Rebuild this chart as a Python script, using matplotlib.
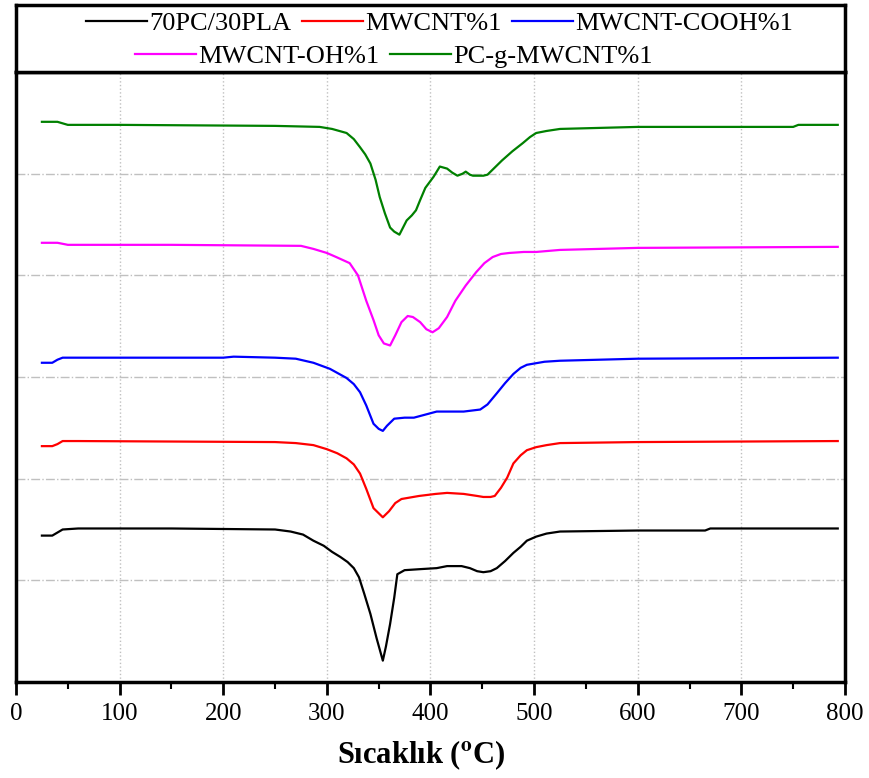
import matplotlib
matplotlib.use("Agg")
import matplotlib.pyplot as plt
from matplotlib.ticker import MultipleLocator

plt.rcParams['font.family'] = ['Liberation Serif', 'DejaVu Serif']
plt.rcParams['mathtext.fontset'] = 'stix'

# DTG curves, stacked with offsets (arbitrary units)
t_pla = [25, 35, 40, 45, 60, 150, 250, 265, 277, 287, 297, 305, 313, 320, 326, 331, 336, 342, 348, 354,
         357, 361, 365, 368, 375, 390, 406, 416, 430, 438, 445, 451, 458, 464, 472, 480, 487, 493, 502, 512,
         525, 600, 665, 670, 793]
y_pla = [1.44, 1.44, 1.47, 1.50, 1.51, 1.51, 1.50, 1.48, 1.45, 1.39, 1.34, 1.28, 1.23, 1.18, 1.12, 1.03,
         0.87, 0.67, 0.43, 0.21, 0.35, 0.57, 0.83, 1.06, 1.10, 1.11, 1.12, 1.14, 1.14, 1.12, 1.09, 1.08,
         1.09, 1.12, 1.19, 1.27, 1.33, 1.39, 1.43, 1.46, 1.48, 1.49, 1.49, 1.51, 1.51]

t_cnt = [25, 35, 40, 45, 60, 250, 270, 287, 300, 310, 319, 326, 332, 338, 345, 350, 354, 360, 366, 372,
         389, 405, 416, 432, 445, 451, 458, 462, 468, 474, 480, 487, 493, 502, 512, 525, 600, 793]
y_cnt = [2.32, 2.32, 2.34, 2.37, 2.37, 2.36, 2.35, 2.33, 2.29, 2.25, 2.20, 2.14, 2.05, 1.90, 1.71, 1.66,
         1.62, 1.68, 1.76, 1.80, 1.83, 1.85, 1.86, 1.85, 1.83, 1.82, 1.82, 1.83, 1.91, 2.01, 2.15, 2.23,
         2.28, 2.31, 2.33, 2.35, 2.36, 2.37]

t_cooh = [25, 35, 40, 45, 60, 200, 210, 250, 270, 287, 303, 319, 326, 332, 338, 345, 350, 354, 358, 365,
          375, 384, 395, 406, 420, 432, 448, 455, 464, 472, 480, 487, 493, 510, 525, 600, 793]
y_cooh = [3.14, 3.14, 3.17, 3.19, 3.19, 3.19, 3.20, 3.19, 3.18, 3.14, 3.08, 2.99, 2.93, 2.85, 2.72, 2.54,
          2.49, 2.47, 2.52, 2.59, 2.60, 2.60, 2.63, 2.66, 2.66, 2.66, 2.68, 2.73, 2.84, 2.94, 3.03, 3.09,
          3.12, 3.15, 3.16, 3.18, 3.19]

t_oh = [25, 40, 50, 150, 275, 287, 300, 309, 322, 330, 338, 345, 350, 355, 361, 366, 372, 378, 383, 390,
        396, 402, 408, 416, 424, 434, 444, 452, 460, 468, 476, 490, 502, 525, 600, 793]
y_oh = [4.32, 4.32, 4.30, 4.30, 4.29, 4.26, 4.22, 4.18, 4.12, 4.00, 3.75, 3.56, 3.41, 3.33, 3.31, 3.41,
        3.54, 3.60, 3.59, 3.54, 3.47, 3.44, 3.48, 3.59, 3.75, 3.90, 4.03, 4.12, 4.18, 4.21, 4.22, 4.23,
        4.23, 4.25, 4.27, 4.28]

t_pcg = [25, 40, 50, 100, 250, 293, 305, 319, 326, 332, 337, 342, 347, 351, 356, 361, 365, 370, 374, 377,
         382, 386, 390, 395, 403, 409, 416, 421, 426, 431, 434, 438, 441, 451, 455, 459, 464, 469, 479, 489,
         496, 502, 512, 525, 600, 750, 755, 793]
y_pcg = [5.51, 5.51, 5.48, 5.48, 5.47, 5.46, 5.44, 5.40, 5.34, 5.26, 5.19, 5.10, 4.94, 4.77, 4.61, 4.47,
         4.43, 4.40, 4.48, 4.54, 4.59, 4.64, 4.74, 4.86, 4.97, 5.07, 5.05, 5.01, 4.98, 5.00, 5.02, 4.99,
         4.98, 4.98, 4.99, 5.03, 5.08, 5.13, 5.22, 5.30, 5.36, 5.40, 5.42, 5.44, 5.46, 5.46, 5.48, 5.48]

labels = ['70PC/30PLA', 'MWCNT%1', 'MWCNT-COOH%1', 'MWCNT-OH%1', 'PC-g-MWCNT%1']
colors = ['black', '#ff0000', '#0000ff', '#ff00ff', '#008000']
xs = [t_pla, t_cnt, t_cooh, t_oh, t_pcg]
ys = [y_pla, y_cnt, y_cooh, y_oh, y_pcg]

W, H = 870, 778
fig = plt.figure(figsize=(W / 100, H / 100), dpi=100)
ax = fig.add_axes([16 / W, (H - 682) / H, 829 / W, 610 / H])

lines = []
for x, y, c, lab in zip(xs, ys, colors, labels):
    ln, = ax.plot(x, y, color=c, lw=1.6, label=lab)
    lines.append(ln)

ax.set_xlim(0, 800)
ax.set_ylim(0, 6)
ax.xaxis.set_major_locator(MultipleLocator(100))
ax.xaxis.set_minor_locator(MultipleLocator(50))
ax.set_yticks([1, 2, 3, 4, 5])
ax.tick_params(axis='y', length=0, labelleft=False)
ax.tick_params(axis='x', which='major', direction='out', length=9, width=2, labelsize=18, pad=6)
ax.tick_params(axis='x', which='minor', direction='out', length=5, width=1.5)
ax.grid(axis='x', which='major', linestyle=':', color='#c0c0c0', lw=1)
ax.grid(axis='y', linestyle='-.', color='#c0c0c0', lw=1)
for s in ax.spines.values():
    s.set_linewidth(2.5)

ax.set_xlabel('Sıcaklık ($^{\\mathbf{o}}$C)', fontsize=22, fontweight='bold')
ax.xaxis.set_label_coords(0.489, -0.093)

# legend box above the plot
lax = fig.add_axes([16 / W, (H - 72) / H, 829 / W, 67 / H])
lax.set_xticks([])
lax.set_yticks([])
for s in lax.spines.values():
    s.set_linewidth(2.5)

leg_kw = dict(frameon=False, fontsize=19, handlelength=2.3, handletextpad=0.1,
              columnspacing=0.4, borderpad=0, borderaxespad=0, loc='center left')
leg1 = lax.legend(lines[:3], labels[:3], ncol=3, bbox_to_anchor=(70 / 829, 0.72), **leg_kw)
lax.add_artist(leg1)
lax.legend(lines[3:], labels[3:], ncol=2, bbox_to_anchor=(119 / 829, 0.23), **leg_kw)

fig.savefig('out.png', dpi=100)
